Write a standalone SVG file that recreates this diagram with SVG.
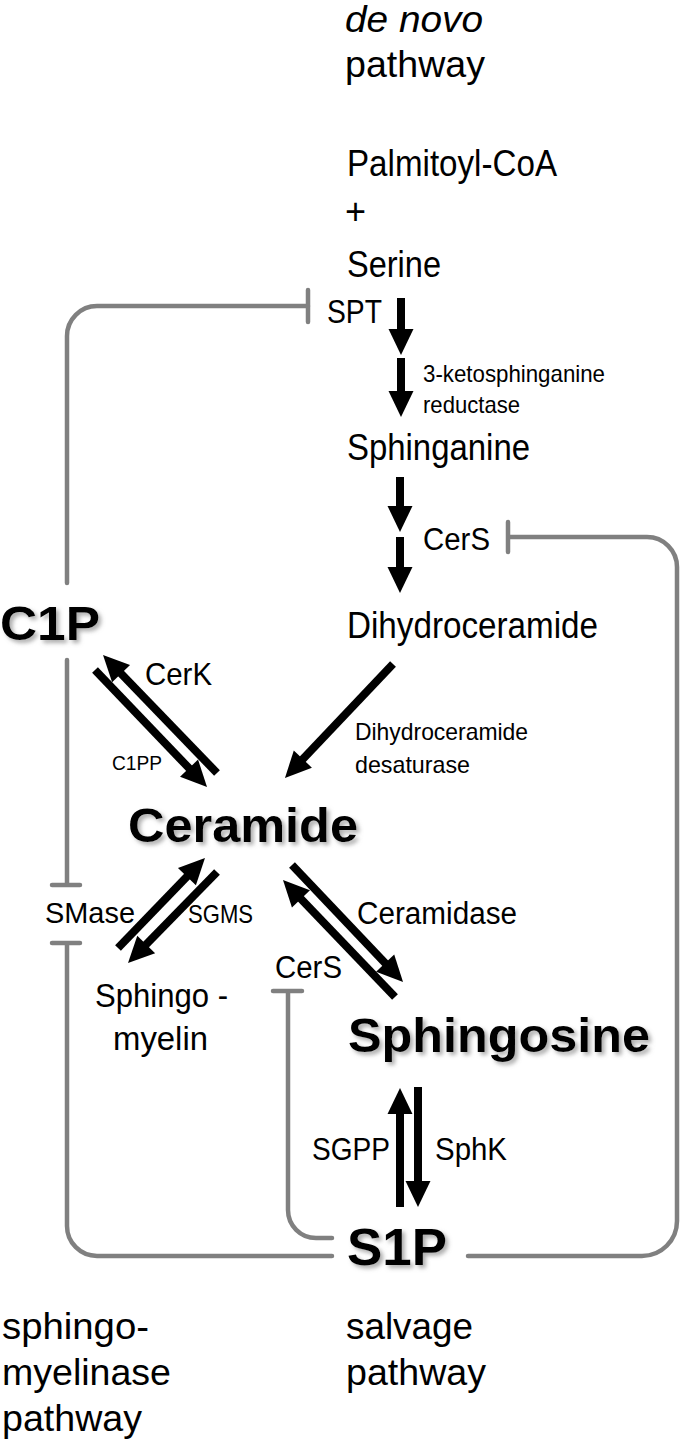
<svg xmlns="http://www.w3.org/2000/svg" width="685" height="1446" viewBox="0 0 685 1446">
<style>
text{font-family:"Liberation Sans",Arial,sans-serif;fill:#000}
.b{font-weight:bold;filter:url(#sh)}
.inh{fill:none;stroke:#808080;stroke-width:4.5;stroke-linecap:round}
.arr{stroke:#000;stroke-width:8;fill:none;marker-end:url(#ah)}
</style>
<defs>
<marker id="ah" viewBox="0 -2 4 4" refX="0.5" refY="0" markerWidth="4" markerHeight="4" markerUnits="strokeWidth" orient="auto" overflow="visible">
<path d="M0,-1.56 L3.25,0 L0,1.56 z" fill="#000"/>
</marker>
<filter id="sh" x="-10%" y="-20%" width="130%" height="160%">
<feDropShadow dx="3" dy="3" stdDeviation="2" flood-color="#777" flood-opacity="0.6"/>
</filter>
</defs>
<rect width="685" height="1446" fill="#fff"/>
<g id="connectors">
<path class="inh" d="M308 306 H97 A30 30 0 0 0 67 336 V583"/>
<path class="inh" d="M308 290 V322"/>
<path class="inh" d="M67 660 V885 M52 885 H80"/>
<path class="inh" d="M52 943 H80 M67 943 V1226 A30 30 0 0 0 97 1256 H332"/>
<path class="inh" d="M273 991 H302 M288 991 V1210 A28 28 0 0 0 316 1238 H332"/>
<path class="inh" d="M508 522 V552 M508 537 H647 A30 30 0 0 1 677 567 V1221 A35 35 0 0 1 642 1256 H468"/>
<line class="arr" x1="401" y1="298" x2="401" y2="333"/>
<line class="arr" x1="401" y1="358" x2="401" y2="395"/>
<line class="arr" x1="400" y1="477" x2="400" y2="510"/>
<line class="arr" x1="400" y1="537" x2="400" y2="571"/>
<line class="arr" x1="393" y1="664" x2="300.1" y2="762"/>
<line class="arr" x1="217" y1="773" x2="118.3" y2="670.8"/>
<line class="arr" x1="95" y1="670" x2="191.8" y2="771.1"/>
<line class="arr" x1="118" y1="948" x2="189.7" y2="873.8"/>
<line class="arr" x1="217" y1="872" x2="143.4" y2="947.3"/>
<line class="arr" x1="292" y1="865" x2="387.9" y2="966"/>
<line class="arr" x1="395" y1="997" x2="298.2" y2="895.9"/>
<line class="arr" x1="400" y1="1207" x2="400" y2="1110"/>
<line class="arr" x1="418" y1="1087" x2="418" y2="1185"/>
</g>
<g id="denovo"><text x="345" y="32" font-size="36" font-style="italic" textLength="138" lengthAdjust="spacingAndGlyphs">de novo</text><text x="345" y="77" font-size="36" textLength="140" lengthAdjust="spacingAndGlyphs">pathway</text></g>
<g id="substrates"><text x="347" y="176" font-size="37" textLength="210" lengthAdjust="spacingAndGlyphs">Palmitoyl-CoA</text><text x="345" y="224" font-size="36">+</text><text x="347" y="277" font-size="37" textLength="94" lengthAdjust="spacingAndGlyphs">Serine</text></g>
<g id="spt"><text x="327" y="323" font-size="34" textLength="55" lengthAdjust="spacingAndGlyphs">SPT</text></g>
<g id="ksr"><text x="423" y="382" font-size="24" textLength="182" lengthAdjust="spacingAndGlyphs">3-ketosphinganine</text><text x="423" y="413" font-size="24" textLength="97" lengthAdjust="spacingAndGlyphs">reductase</text></g>
<g id="sphinganine"><text x="347" y="460" font-size="37" textLength="183" lengthAdjust="spacingAndGlyphs">Sphinganine</text></g>
<g id="cers1"><text x="423" y="550" font-size="31" textLength="67" lengthAdjust="spacingAndGlyphs">CerS</text></g>
<g id="dihydroceramide"><text x="347" y="638" font-size="36" textLength="251" lengthAdjust="spacingAndGlyphs">Dihydroceramide</text></g>
<g id="c1p"><text class="b" x="0" y="640" font-size="49" textLength="100" lengthAdjust="spacingAndGlyphs">C1P</text></g>
<g id="cerk"><text x="145" y="685" font-size="32" textLength="67" lengthAdjust="spacingAndGlyphs">CerK</text></g>
<g id="c1pp"><text x="112" y="770" font-size="21" textLength="50" lengthAdjust="spacingAndGlyphs">C1PP</text></g>
<g id="desaturase"><text x="355" y="740" font-size="24" textLength="173" lengthAdjust="spacingAndGlyphs">Dihydroceramide</text><text x="355" y="773" font-size="24" textLength="115" lengthAdjust="spacingAndGlyphs">desaturase</text></g>
<g id="ceramide"><text class="b" x="128" y="842" font-size="48" textLength="230" lengthAdjust="spacingAndGlyphs">Ceramide</text></g>
<g id="smase"><text x="45" y="923" font-size="30" textLength="90" lengthAdjust="spacingAndGlyphs">SMase</text></g>
<g id="sgms"><text x="188" y="923" font-size="25" textLength="65" lengthAdjust="spacingAndGlyphs">SGMS</text></g>
<g id="ceramidase"><text x="357" y="924" font-size="31" textLength="160" lengthAdjust="spacingAndGlyphs">Ceramidase</text></g>
<g id="cers2"><text x="275" y="978" font-size="31" textLength="67" lengthAdjust="spacingAndGlyphs">CerS</text></g>
<g id="sphingomyelin"><text x="95" y="1007" font-size="34" textLength="133" lengthAdjust="spacingAndGlyphs">Sphingo -</text><text x="113" y="1050" font-size="34" textLength="95" lengthAdjust="spacingAndGlyphs">myelin</text></g>
<g id="sphingosine"><text class="b" x="348" y="1052" font-size="48" textLength="302" lengthAdjust="spacingAndGlyphs">Sphingosine</text></g>
<g id="sgpp"><text x="312" y="1160" font-size="31" textLength="78" lengthAdjust="spacingAndGlyphs">SGPP</text></g>
<g id="sphk"><text x="435" y="1160" font-size="31" textLength="72" lengthAdjust="spacingAndGlyphs">SphK</text></g>
<g id="s1p"><text class="b" x="347" y="1265" font-size="52" textLength="100" lengthAdjust="spacingAndGlyphs">S1P</text></g>
<g id="smpathway"><text x="2" y="1339" font-size="37" textLength="147" lengthAdjust="spacingAndGlyphs">sphingo-</text><text x="2" y="1385" font-size="37" textLength="169" lengthAdjust="spacingAndGlyphs">myelinase</text><text x="2" y="1431" font-size="37" textLength="140" lengthAdjust="spacingAndGlyphs">pathway</text></g>
<g id="salvage"><text x="346" y="1339" font-size="37" textLength="127" lengthAdjust="spacingAndGlyphs">salvage</text><text x="346" y="1385" font-size="37" textLength="140" lengthAdjust="spacingAndGlyphs">pathway</text></g>
</svg>
